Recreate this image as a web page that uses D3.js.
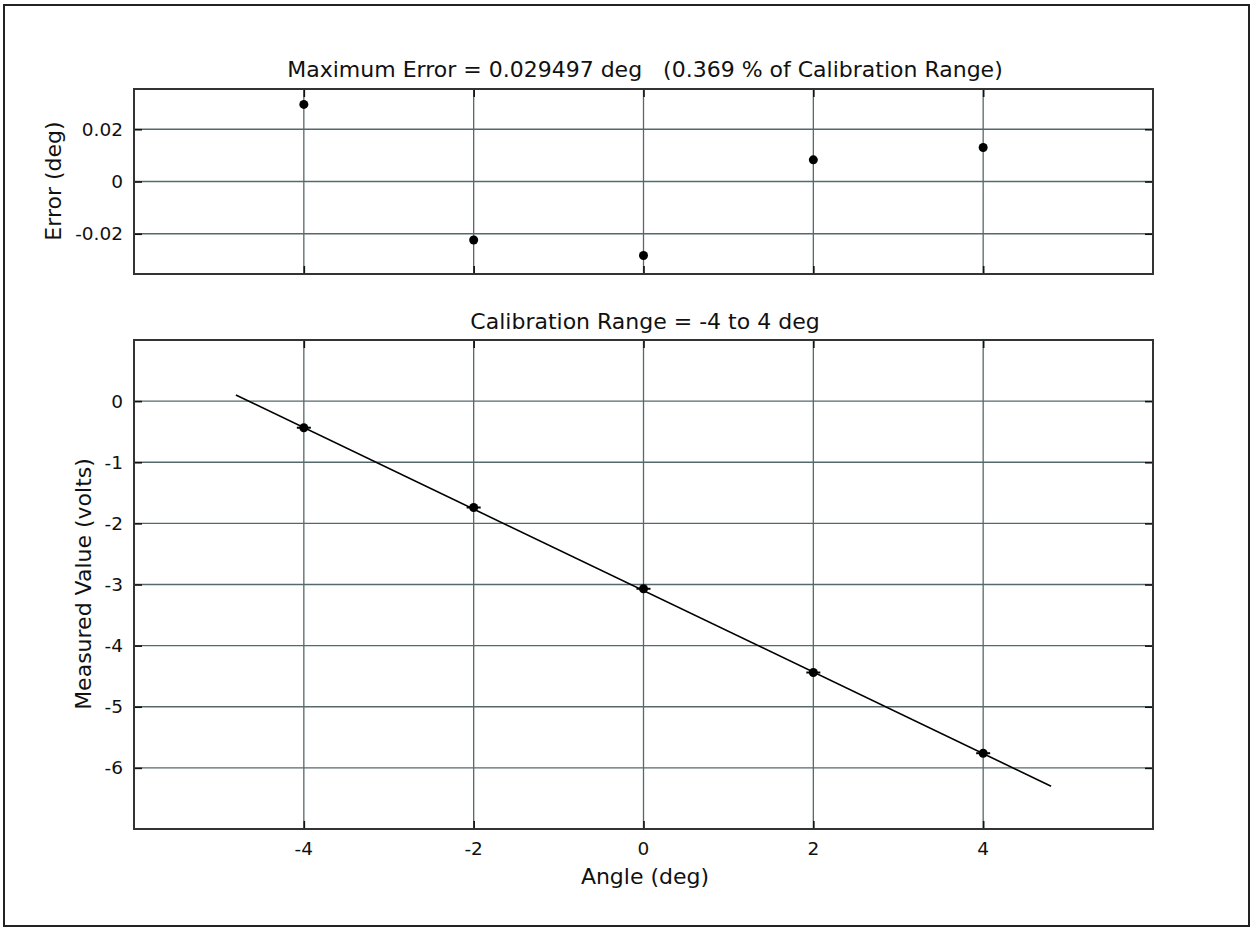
<!DOCTYPE html>
<html>
<head>
<meta charset="utf-8">
<script src="https://cdn.jsdelivr.net/npm/d3@7"></script>
<style>
  body { margin: 0; background: #fff; }
  text { font-family: "DejaVu Sans", sans-serif; fill: #111; }
</style>
</head>
<body>
<div id="chart"></div>
<script>
// calibration angles (deg)
var angles = [-4, -2, 0, 2, 4];
// fit error at each angle (deg)
var errors = [0.0295, -0.0224, -0.0283, 0.0083, 0.0130];
// measured voltage at each angle
var volts = [-0.435, -1.74, -3.07, -4.44, -5.76];
// fitted line end points
var fitX = [-4.8, 4.8];
var fitY = [0.10, -6.30];

var xTicks = [-4, -2, 0, 2, 4];
var errTicks = [-0.02, 0, 0.02];
var voltTicks = [-6, -5, -4, -3, -2, -1, 0];

var W = 1252, H = 929;
var gridColor = "#56696a";

var svg = d3.select("#chart").append("svg")
  .attr("width", W).attr("height", H);

svg.append("rect").attr("x", 4).attr("y", 5).attr("width", 1245).attr("height", 921)
  .attr("fill", "#fff").attr("stroke", "#222").attr("stroke-width", 2);

var left = 134, right = 1153;
var x = d3.scaleLinear().domain([-6, 6]).range([left, right]);

// plain hyphen for negatives, like the original
function hy(s) { return String(s).replace("\u2212", "-"); }

function panel(top, bottom, yDomain, yTicks, fmt) {
  var y = d3.scaleLinear().domain(yDomain).range([bottom, top]);
  var g = svg.append("g");
  // grid
  g.selectAll(".vg").data(xTicks).enter().append("line")
    .attr("x1", function (d) { return x(d); }).attr("x2", function (d) { return x(d); })
    .attr("y1", top).attr("y2", bottom)
    .attr("stroke", gridColor).attr("stroke-width", 1.3);
  g.selectAll(".hg").data(yTicks).enter().append("line")
    .attr("x1", left).attr("x2", right)
    .attr("y1", function (d) { return y(d); }).attr("y2", function (d) { return y(d); })
    .attr("stroke", gridColor).attr("stroke-width", 1.3);
  // inward ticks on all sides
  g.append("g").attr("transform", "translate(0," + bottom + ")")
    .call(d3.axisBottom(x).tickValues(xTicks).tickSizeInner(-8).tickSizeOuter(0).tickFormat(""));
  g.append("g").attr("transform", "translate(0," + top + ")")
    .call(d3.axisTop(x).tickValues(xTicks).tickSizeInner(-8).tickSizeOuter(0).tickFormat(""));
  g.append("g").attr("transform", "translate(" + right + ",0)")
    .call(d3.axisRight(y).tickValues(yTicks).tickSizeInner(-8).tickSizeOuter(0).tickFormat(""));
  var ya = g.append("g").attr("transform", "translate(" + left + ",0)")
    .call(d3.axisLeft(y).tickValues(yTicks).tickSizeInner(-8).tickSizeOuter(0).tickPadding(11).tickFormat(fmt));
  ya.selectAll("text").style("font-size", "18.5px").attr("fill", "#111");
  g.selectAll(".domain").remove();
  g.selectAll(".tick line").attr("stroke", "#111").attr("stroke-width", 1.6);
  // frame
  g.append("rect").attr("x", left).attr("y", top).attr("width", right - left).attr("height", bottom - top)
    .attr("fill", "none").attr("stroke", "#333").attr("stroke-width", 2);
  return { g: g, y: y };
}

// top panel: errors
var p1 = panel(89, 274, [-0.0354, 0.0354], errTicks,
  function (d) { return d === 0 ? "0" : hy(d3.format(".2f")(d)); });
p1.g.selectAll(".pt").data(angles).enter().append("circle")
  .attr("cx", function (d) { return x(d); })
  .attr("cy", function (d, i) { return p1.y(errors[i]); })
  .attr("r", 4.5).attr("fill", "#000");

svg.append("text").attr("x", 645).attr("y", 77).attr("text-anchor", "middle")
  .style("font-size", "22px").attr("xml:space", "preserve")
  .text("Maximum Error = 0.029497 deg   (0.369 % of Calibration Range)");
svg.append("text").attr("transform", "translate(61,181) rotate(-90)").attr("text-anchor", "middle")
  .style("font-size", "22px").text("Error (deg)");

// bottom panel: measured values
var p2 = panel(340, 829, [-7, 1], voltTicks, function (d) { return hy(d3.format("d")(d)); });
p2.g.append("path")
  .datum(fitX.map(function (d, i) { return [d, fitY[i]]; }))
  .attr("fill", "none").attr("stroke", "#000").attr("stroke-width", 1.6)
  .attr("d", d3.line().x(function (d) { return x(d[0]); }).y(function (d) { return p2.y(d[1]); }));
p2.g.selectAll(".mk").data(angles).enter().append("line")
  .attr("x1", function (d) { return x(d) - 7; }).attr("x2", function (d) { return x(d) + 7; })
  .attr("y1", function (d, i) { return p2.y(volts[i]); }).attr("y2", function (d, i) { return p2.y(volts[i]); })
  .attr("stroke", "#000").attr("stroke-width", 2);
p2.g.selectAll(".pt").data(angles).enter().append("circle")
  .attr("cx", function (d) { return x(d); })
  .attr("cy", function (d, i) { return p2.y(volts[i]); })
  .attr("r", 4.5).attr("fill", "#000");

svg.append("g").selectAll("text").data(xTicks).enter().append("text")
  .attr("x", function (d) { return x(d); }).attr("y", 855).attr("text-anchor", "middle")
  .style("font-size", "18.5px").text(function (d) { return d; });

svg.append("text").attr("x", 645).attr("y", 329).attr("text-anchor", "middle")
  .style("font-size", "22px").text("Calibration Range = -4 to 4 deg");
svg.append("text").attr("x", 645).attr("y", 884).attr("text-anchor", "middle")
  .style("font-size", "22px").text("Angle (deg)");
svg.append("text").attr("transform", "translate(91,584) rotate(-90)").attr("text-anchor", "middle")
  .style("font-size", "22px").text("Measured Value (volts)");
</script>
</body>
</html>
